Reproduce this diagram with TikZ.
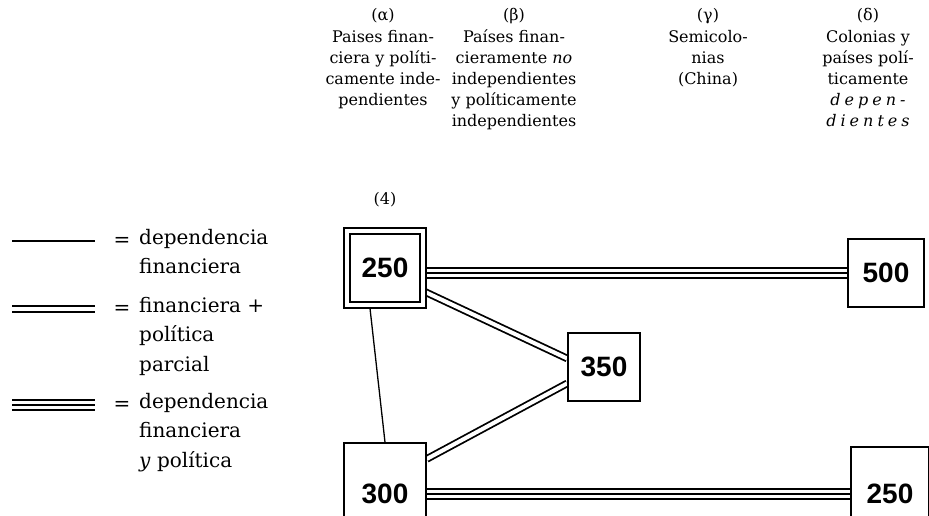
\documentclass[tikz,border=0pt]{standalone}
\usepackage{fontspec}
\setmainfont{DejaVu Serif}
\newfontfamily\numfont{Liberation Sans}
\usetikzlibrary{backgrounds}

\begin{document}
\begin{tikzpicture}[x=1pt,y=-1pt]

\def\rowa{273}
\def\rowb{494}
\def\colA{383}
\def\colB{514}
\def\colC{708}
\def\colD{868}

\tikzset{box/.style = {draw, line width=1.6pt, minimum width=76pt, minimum height=68pt, inner sep=0pt, font=\numfont\bfseries\fontsize{28}{28}\selectfont}}
\tikzset{head/.style = {align=center, anchor=north, inner sep=0pt, font=\fontsize{16}{21}\selectfont}}
\tikzset{legtext/.style = {align=left, anchor=north west, inner sep=0pt, font=\fontsize{20}{29.5}\selectfont}}
\tikzset{single/.style = {line width=1.3pt}}
\tikzset{twofold/.style = {draw, line width=1.8pt, double, double distance=4pt}}
\tikzset{threefold/.style = {draw, line width=2pt, double, double distance=8pt, postaction={draw, line width=2pt}}}

\useasboundingbox (0,0) rectangle (929,515);
\clip (0,0) rectangle (929,515);

% header
\node[head] (hA) at (\colA,8) {(α)\\[1pt]Paises finan-\\ciera y políti-\\camente inde-\\pendientes};
\node[head] (hB) at (\colB,8) {(β)\\[1pt]Países finan-\\cieramente \textit{no}\\independientes\\y políticamente\\independientes};
\node[head] (hC) at (\colC,8) {(γ)\\[1pt]Semicolo-\\nias\\(China)};
\node[head] (hD) at (\colD,8) {(δ)\\[1pt]Colonias y\\países polí-\\ticamente\\{\itshape\addfontfeature{LetterSpace=25}depen-}\\{\itshape\addfontfeature{LetterSpace=25}dientes}};

\node[head, anchor=center] (n4) at (385,200) {(4)};

% boxes
\node[box, double, double distance=4.5pt, minimum width=76pt, minimum height=74pt] (b250a) at (385,268) {250};
\node[box] (b500) at (886,\rowa) {500};
\node[box, minimum width=72pt] (b350) at (604,367) {350};
\node[box, minimum width=82pt, minimum height=102pt] (b300) at (385,\rowb) {300};
\node[box, minimum width=78pt, minimum height=94pt] (b250b) at (890,\rowb) {250};

% connectors
\begin{pgfonlayer}{background}
\draw[threefold] (b250a.east |- b500.west) -- (b500.west);
\draw[threefold] (b300.east) -- (b250b.west);
\draw[twofold] (b250a.-31) -- (b350.167);
\draw[twofold] (b300.40) -- (b350.-156);
\draw[single] (b250a.-112) -- (b300.north);
\end{pgfonlayer}

% legend
\draw[single] (12,241) -- (95,241);
\node[legtext, anchor=center] (eq1) at (122,242) {=};
\node[legtext] (l1) at (139,229) {dependencia\\financiera};

\draw[twofold] (12,309) -- (95,309);
\node[legtext, anchor=center] (eq2) at (122,310) {=};
\node[legtext] (l2) at (139,297) {financiera +\\política\\parcial};

\draw[threefold] (12,405) -- (95,405);
\node[legtext, anchor=center] (eq3) at (122,406) {=};
\node[legtext] (l3) at (139,393) {dependencia\\financiera\\\textit{y} política};

\end{tikzpicture}
\end{document}
